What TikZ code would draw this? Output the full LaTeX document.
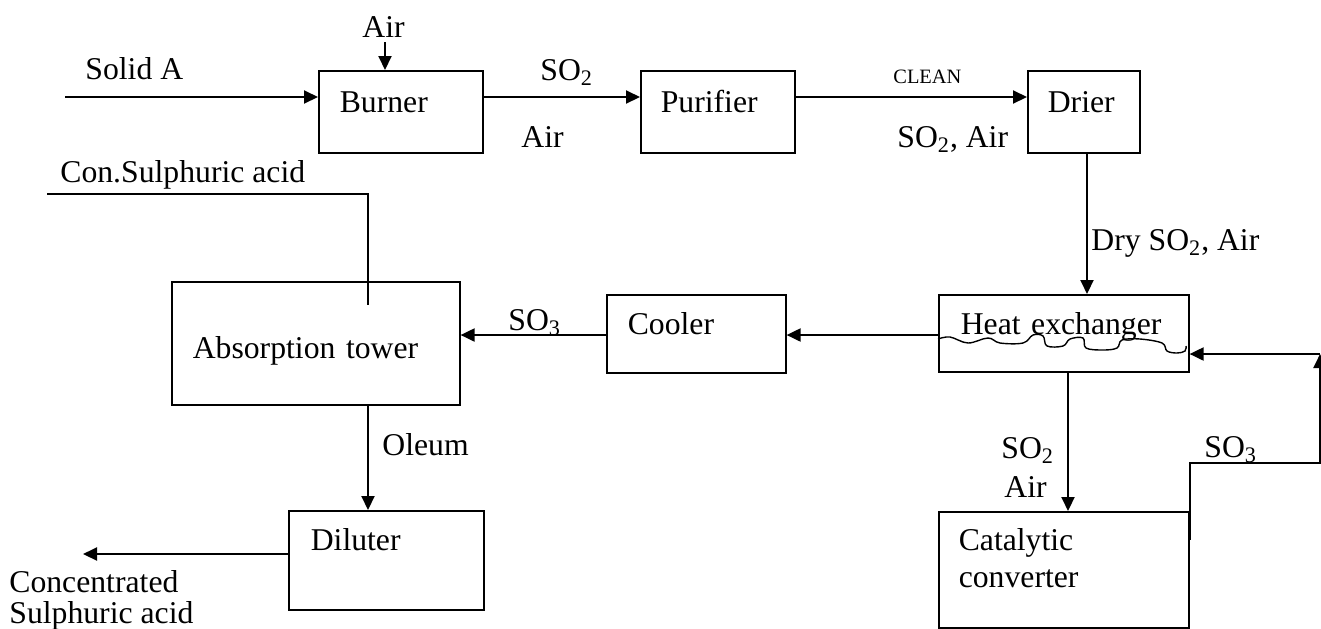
\documentclass[tikz,border=0pt]{standalone}
\usepackage{fontspec}
\setmainfont{Liberation Serif}
\usetikzlibrary{arrows.meta,calc}

\newcommand\plantsize{\fontsize{15.85}{18.5}\selectfont}

\begin{document}
\begin{tikzpicture}[
    x=0.5pt,
    y=-0.5pt,
    line cap=butt,
    line join=miter,
    font=\plantsize
]

\tikzset{
    unit/.style={
        draw=black,
        line width=0.8pt,
        anchor=north west,
        align=left,
        inner ysep=0pt
    },
    tag/.style={
        anchor=base west,
        inner sep=0pt
    },
    flow/.style={
        draw=black,
        line width=1pt,
        -{Triangle[length=7pt,width=6.5pt]}
    },
    pipe/.style={
        draw=black,
        line width=0.8pt
    }
}

\useasboundingbox (0,0) rectangle (1321,628);

% process units
\node[unit, inner xsep=10.5pt, text width=61pt, text height=21pt, text depth=20pt] (burner) at (318,70) {Burner};
\node[unit, inner xsep=10pt, text width=57pt, text height=21pt, text depth=20pt] (purifier) at (640,70) {Purifier};
\node[unit, inner xsep=10pt, text width=36pt, text height=21pt, text depth=20pt] (drier) at (1027,70) {Drier};
\node[unit, inner xsep=11pt, text width=103pt, text height=20pt, text depth=18.5pt] (heatex) at (938,294) {Heat exchanger};
\node[unit, inner xsep=10.5pt, text width=68.5pt, text height=20pt, text depth=19pt] (cooler) at (606,294) {Cooler};
\node[unit, inner xsep=10.5pt, text width=123pt, text height=38.5pt, text depth=23pt] (absorber) at (171,281) {Absorption tower};
\node[unit, inner xsep=11pt, text width=75.5pt, text height=20pt, text depth=29.5pt] (diluter) at (288,510) {Diluter};
\node[unit, inner xsep=10pt, text width=105pt, text height=19.5pt, text depth=38.5pt] (converter) at (938,511) {Catalytic\\converter};

% stream labels
\node[tag] (airtop) at (362,37) {Air};
\node[tag] (solidlbl) at (85,79) {Solid A};
\node[tag] (burnso) at (540,80) {SO\textsubscript{2}};
\node[tag] (burnair) at (521,147) {Air};
\node[tag, font=\fontsize{10.2}{12}\selectfont] (cleanlbl) at (893,83) {CLEAN};
\node[tag] (cleangas) at (897,147) {SO\textsubscript{2}, Air};
\node[tag] (drygas) at (1091,250) {Dry SO\textsubscript{2}, Air};
\node[tag] (coolso) at (508,330) {SO\textsubscript{3}};
\node[tag] (acidlbl) at (60,182) {Con.Sulphuric acid};
\node[tag] (oleumlbl) at (382,455) {Oleum};
\node[tag] (prodlbl) at (9,592) {Concentrated};
\node[tag] (prodlbltwo) at (9,623) {Sulphuric acid};
\node[tag] (convso) at (1001,458) {SO\textsubscript{2}};
\node[tag] (convair) at (1004,497) {Air};
\node[tag] (retso) at (1204,457) {SO\textsubscript{3}};

% stream coordinates
\coordinate (solidin) at (65,97);
\coordinate (airin) at (385,42);
\coordinate (drytap) at (1087,200);
\coordinate (gasrow) at (700,335);
\coordinate (convtap) at (1068,440);
\coordinate (retcorner) at (1320,463);
\coordinate (retrow) at (1320,354);
\coordinate (acidtap) at (368,250);
\coordinate (acidin) at (47,194);
\coordinate (prodout) at (83,554);

% top line
\draw[flow] (solidin) -- (solidin -| burner.west);
\draw[flow] (airin) -- (airin |- burner.north);
\draw[flow] (solidin -| burner.east) -- (solidin -| purifier.west);
\draw[flow] (solidin -| purifier.east) -- (solidin -| drier.west);
\draw[flow] (drytap |- drier.south) -- (drytap |- heatex.north);

% gas to absorber
\draw[flow] (gasrow -| heatex.west) -- (gasrow -| cooler.east);
\draw[flow] (gasrow -| cooler.west) -- (gasrow -| absorber.east);

% converter loop
\draw[flow] (convtap |- heatex.south) -- (convtap |- converter.north);
\draw[flow] ($(converter.north east)+(0,29)$) -- (converter.north east |- retcorner) -- (retcorner) -- (retrow);
\draw[flow] (retrow) -- (retrow -| heatex.east);

% acid side
\draw[pipe] (acidin) -- (acidin -| acidtap) -- ($(acidtap |- absorber.north)+(0,24)$);
\draw[flow] (acidtap |- absorber.south) -- (acidtap |- diluter.north);
\draw[flow] (prodout -| diluter.west) -- (prodout);

% heat exchanger coil
\draw[pipe, line width=0.7pt] plot[smooth, tension=0.6] coordinates {
    (938,339) (950,337) (968,343) (988,338) (1000,343) (1023,343)
    (1033,335) (1043,336) (1047,346) (1063,346) (1070,339) (1083,338)
    (1086,348) (1103,350) (1117,348) (1122,340) (1140,339) (1162,343)
    (1167,351) (1177,353) (1185,351) (1186,346)
};

\end{tikzpicture}
\end{document}
